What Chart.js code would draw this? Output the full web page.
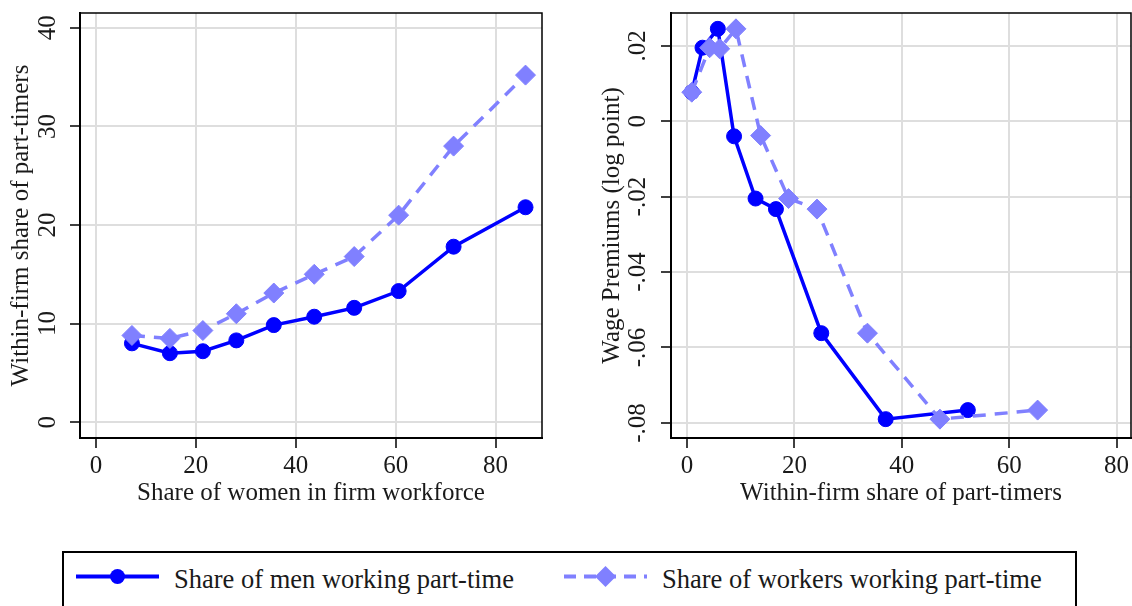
<!DOCTYPE html>
<html>
<head>
<meta charset="utf-8">
<script src="https://cdn.jsdelivr.net/npm/chart.js@4/dist/chart.umd.min.js"></script>
<style>
  body { margin: 0; background: #fff; width: 1132px; height: 606px; overflow: hidden; position: relative;
         font-family: 'Liberation Serif', 'DejaVu Serif', serif; }
  canvas { position: absolute; top: 0; }
  #cvL { left: 0; }
  #cvR { left: 566px; }
  #legend { position: absolute; left: 62px; top: 551px; width: 1011px; height: 80px; border: 2px solid #000; }
  .lg-txt { position: absolute; font-size: 26.5px; line-height: 30px; top: 564px; color: #1a1a1a; white-space: nowrap; }
  svg { position: absolute; }
</style>
</head>
<body>
<canvas id="cvL" width="560" height="520"></canvas>
<canvas id="cvR" width="566" height="520"></canvas>
<div id="legend"></div>
<svg style="left:72px;top:562px" width="92" height="30">
  <line x1="4" y1="14.5" x2="87" y2="14.5" stroke="#0000ff" stroke-width="4"/>
  <circle cx="45.5" cy="14.5" r="7.5" fill="#0000ff"/>
</svg>
<span class="lg-txt" style="left:174px">Share of men working part-time</span>
<svg style="left:560px;top:562px" width="92" height="30">
  <line x1="4" y1="14.5" x2="87" y2="14.5" stroke="#8080ff" stroke-width="4" stroke-dasharray="12 8"/>
  <polygon points="35,14.5 45.5,4 56,14.5 45.5,25" fill="#8080ff"/>
</svg>
<span class="lg-txt" style="left:662px">Share of workers working part-time</span>

<script>
// left panel: share of women (x) vs within-firm share of part-timers (y)
const womenShare   = [7.2, 14.8, 21.4, 28.1, 35.6, 43.7, 51.7, 60.6, 71.6, 86.0];
const menPT        = [8.0, 7.0, 7.2, 8.3, 9.85, 10.7, 11.6, 13.3, 17.8, 21.8];
const workersPT    = [8.8, 8.5, 9.3, 11.0, 13.1, 15.0, 16.8, 21.0, 28.0, 35.2];

// right panel: within-firm share of part-timers (x) vs wage premium (y)
const menPTshare     = [0.87, 2.87, 5.73, 8.75, 12.75, 16.55, 25.0, 37.0, 52.3];
const menPremium     = [0.0077, 0.0195, 0.0245, -0.004, -0.0205, -0.0233, -0.0562, -0.079, -0.0766];
const workPTshare    = [0.87, 4.2, 6.07, 9.1, 13.7, 18.9, 24.2, 33.6, 47.1, 65.3];
const workPremium    = [0.0077, 0.0195, 0.0192, 0.0245, -0.0038, -0.0205, -0.0233, -0.0562, -0.079, -0.0766];

const xTicks      = [0, 20, 40, 60, 80];
const xTickLabels = ['0', '20', '40', '60', '80'];
const leftYTicks  = [0, 10, 20, 30, 40];
const leftYLabels = ['0', '10', '20', '30', '40'];
const rightYTicks  = [-0.08, -0.06, -0.04, -0.02, 0, 0.02];
const rightYLabels = ['-.08', '-.06', '-.04', '-.02', '0', '.02'];

const DARK = '#0000ff', LIGHT = '#8080ff', GRID = '#dedede';
const FONT = { family: "'Liberation Serif', 'DejaVu Serif', serif", size: 25 };

const pairs = (xs, ys) => xs.map((x, i) => ({ x, y: ys[i] }));

// top + right edges of the plot box
const frame = {
  id: 'frame',
  afterDatasetsDraw(chart) {
    const { ctx, chartArea: a } = chart;
    ctx.save();
    ctx.strokeStyle = '#000'; ctx.lineWidth = 1.5;
    ctx.beginPath();
    ctx.moveTo(a.left, a.top); ctx.lineTo(a.right, a.top); ctx.lineTo(a.right, a.bottom);
    ctx.stroke();
    ctx.restore();
  }
};

function noPad(s) { s.paddingLeft = 0; s.paddingRight = 0; s.paddingTop = 0; s.paddingBottom = 0; }

function series(menX, menY, wkX, wkY) {
  return [
    {
      label: 'Share of men working part-time', data: pairs(menX, menY), order: 1,
      borderColor: DARK, backgroundColor: DARK, borderWidth: 3.5,
      pointStyle: 'circle', pointRadius: 7.5, pointBorderWidth: 1, tension: 0
    },
    {
      label: 'Share of workers working part-time', data: pairs(wkX, wkY), order: 0,
      borderColor: LIGHT, backgroundColor: LIGHT, borderWidth: 3.5, borderDash: [13, 9],
      pointStyle: 'rectRot', pointRadius: 10, pointBorderWidth: 1, tension: 0
    }
  ];
}

function scales(o) {
  return {
    x: {
      type: 'linear', min: o.xmin, max: o.xmax,
      afterBuildTicks: s => { s.ticks = xTicks.map(v => ({ value: v })); },
      afterFit: s => { s.height = 82; noPad(s); },
      ticks: { font: FONT, color: '#1a1a1a', padding: 3, maxRotation: 0, autoSkip: false,
               callback: (v, i) => xTickLabels[i] },
      grid: { color: GRID, lineWidth: 2, tickColor: '#000', tickLength: 10, tickWidth: 1.5 },
      border: { display: true, color: '#000', width: 2 },
      title: { display: true, text: o.xTitle, font: FONT, color: '#1a1a1a', padding: { top: 0, bottom: 12 } }
    },
    y: {
      type: 'linear', min: o.ymin, max: o.ymax,
      afterBuildTicks: s => { s.ticks = o.yTicks.map(v => ({ value: v })); },
      afterFit: s => { s.width = o.yw; noPad(s); },
      ticks: { font: FONT, color: '#1a1a1a', padding: o.ylp, minRotation: 90, maxRotation: 90,
               crossAlign: 'center', autoSkip: false, callback: (v, i) => o.yLabels[i] },
      grid: { color: GRID, lineWidth: 2, tickColor: '#000', tickLength: 10, tickWidth: 1.5 },
      border: { display: true, color: '#000', width: 2 },
      title: { display: true, text: o.yTitle, font: FONT, color: '#1a1a1a', padding: { top: o.ytp, bottom: 0 } }
    }
  };
}

function makeChart(id, datasets, sc, pad) {
  return new Chart(document.getElementById(id), {
    type: 'line',
    data: { datasets },
    options: {
      responsive: false, animation: false,
      layout: { padding: pad, autoPadding: false },
      plugins: { legend: { display: false }, tooltip: { enabled: false } },
      scales: sc
    },
    plugins: [frame]
  });
}

makeChart('cvL', series(womenShare, menPT, womenShare, workersPT),
  scales({ xmin: -3.2, xmax: 89.3, ymin: -1.6, ymax: 41.5, yTicks: leftYTicks, yLabels: leftYLabels,
           yw: 80, ylp: 9.5, ytp: 6,
           xTitle: 'Share of women in firm workforce', yTitle: 'Within-firm share of part-timers' }),
  { left: 0, top: 13, right: 18, bottom: 0 });

makeChart('cvR', series(menPTshare, menPremium, workPTshare, workPremium),
  scales({ xmin: -3.0, xmax: 82.7, ymin: -0.084, ymax: 0.0287, yTicks: rightYTicks, yLabels: rightYLabels,
           yw: 105, ylp: 3.2, ytp: 31,
           xTitle: 'Within-firm share of part-timers', yTitle: 'Wage Premiums (log point)' }),
  { left: 0, top: 13, right: 1, bottom: 0 });
</script>
</body>
</html>
